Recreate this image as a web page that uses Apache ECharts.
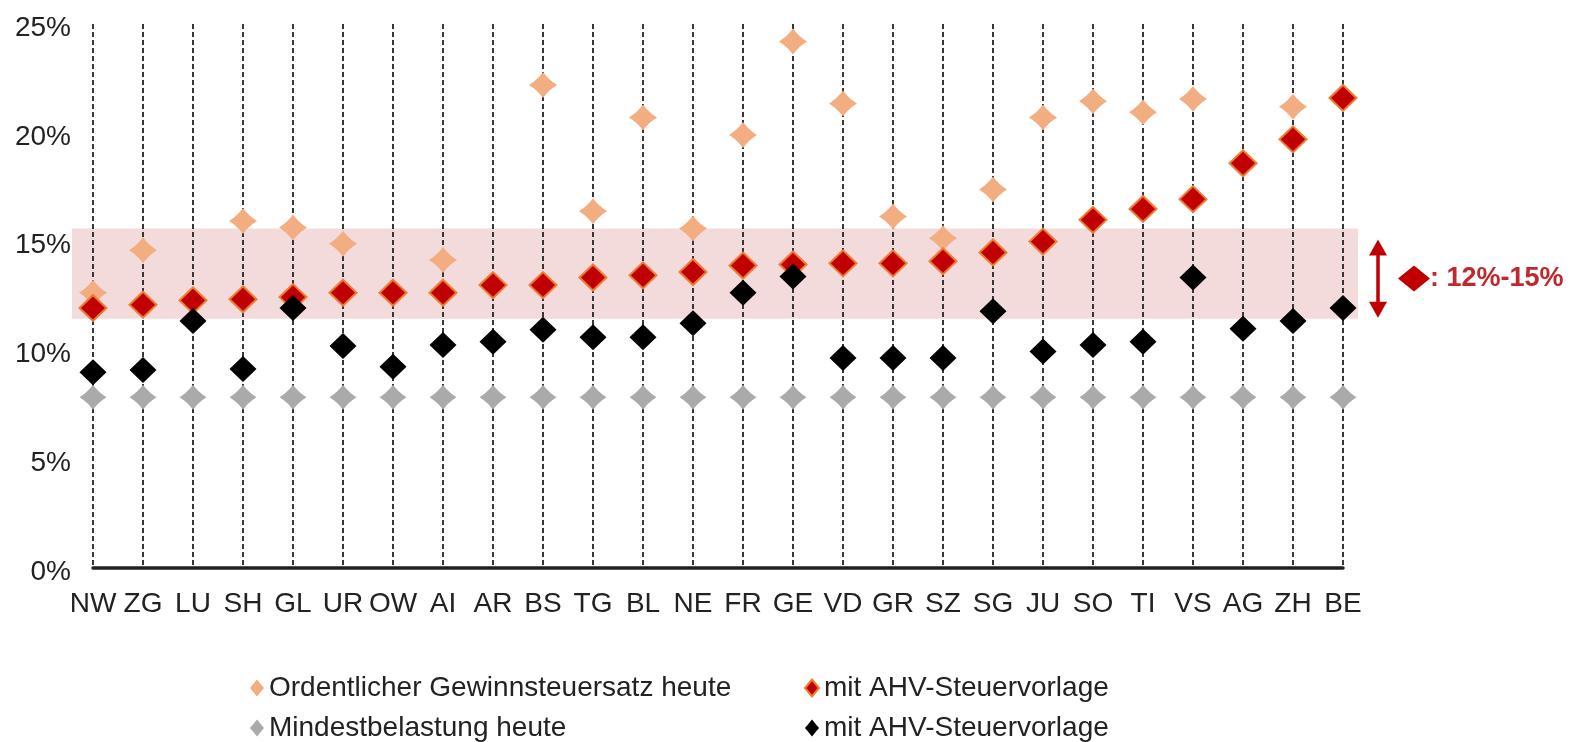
<!DOCTYPE html>
<html>
<head>
<meta charset="utf-8">
<script src="https://cdn.jsdelivr.net/npm/echarts@6/dist/echarts.min.js"></script>
<style>
html, body { margin: 0; padding: 0; background: #fff; }
#chart { width: 1574px; height: 742px; }
</style>
</head>
<body>
<div id="chart"></div>
<script>
var cantons = ['NW', 'ZG', 'LU', 'SH', 'GL', 'UR', 'OW', 'AI', 'AR', 'BS', 'TG', 'BL', 'NE',
  'FR', 'GE', 'VD', 'GR', 'SZ', 'SG', 'JU', 'SO', 'TI', 'VS', 'AG', 'ZH', 'BE'];

// Ordentlicher Gewinnsteuersatz heute
var ordentlichHeute = [12.65, 14.6, 12.3, 15.95, 15.65, 14.9, 12.65, 14.15, 13.0, 22.2, 16.4, 20.7, 15.6,
  19.9, 24.2, 21.35, 16.15, 15.15, 17.4, 20.7, 21.45, 20.95, 21.55, 18.6, 21.2, 21.6];
// mit AHV-Steuervorlage (ordentlich)
var ordentlichVorlage = [11.95, 12.1, 12.3, 12.35, 12.45, 12.65, 12.65, 12.65, 13.0, 13.0, 13.35, 13.45, 13.6,
  13.9, 13.95, 14.0, 14.0, 14.1, 14.5, 15.0, 16.0, 16.5, 16.95, 18.6, 19.7, 21.6];
// Mindestbelastung heute
var mindestHeute = [7.85, 7.85, 7.85, 7.85, 7.85, 7.85, 7.85, 7.85, 7.85, 7.85, 7.85, 7.85, 7.85,
  7.85, 7.85, 7.85, 7.85, 7.85, 7.85, 7.85, 7.85, 7.85, 7.85, 7.85, 7.85, 7.85];
// mit AHV-Steuervorlage (Mindestbelastung)
var mindestVorlage = [9.0, 9.1, 11.35, 9.15, 11.95, 10.2, 9.25, 10.25, 10.4, 10.95, 10.6, 10.6, 11.25,
  12.65, 13.4, 9.65, 9.65, 9.65, 11.8, 9.95, 10.25, 10.4, 13.35, 11.0, 11.35, 11.95];

var yTicks = [0, 5, 10, 15, 20, 25];
var zielBand = [11.45, 15.6];   // schattierter Bereich
var zielLabel = ': 12%-15%';

var font = 'Liberation Sans, Arial, sans-serif';
var starPath = 'path://M0,-10 Q4,-4 10,0 Q4,4 0,10 Q-4,4 -10,0 Q-4,-4 0,-10 Z';

var chart = echarts.init(document.getElementById('chart'));

var legendText = { fontSize: 28, color: '#222', fontFamily: font };

var option = {
  backgroundColor: '#fff',
  animation: false,
  textStyle: { fontFamily: font },
  grid: { left: 93, right: 231, top: 24, bottom: 174 },
  legend: [{
    left: 250, top: 674, orient: 'vertical', padding: 0, itemGap: 12,
    itemWidth: 14, itemHeight: 17,
    textStyle: legendText,
    data: [{ name: 'Ordentlicher Gewinnsteuersatz heute', icon: 'diamond' },
           { name: 'Mindestbelastung heute', icon: 'diamond' }]
  }, {
    left: 804, top: 674, orient: 'vertical', padding: 0, itemGap: 12,
    itemWidth: 14, itemHeight: 17,
    textStyle: legendText,
    formatter: function (n) { return n.trim(); },
    data: [{ name: 'mit AHV-Steuervorlage', icon: 'diamond' },
           { name: 'mit AHV-Steuervorlage ', icon: 'diamond' }]
  }],
  xAxis: {
    type: 'category',
    data: cantons,
    boundaryGap: false,
    axisLine: { lineStyle: { color: '#222', width: 3.5 } },
    axisTick: { show: false },
    axisLabel: { interval: 0, margin: 22, fontSize: 28, color: '#222', fontFamily: font },
    splitLine: { show: true, interval: 0, lineStyle: { color: '#222', width: 1.8, type: [5, 3] } }
  },
  yAxis: {
    type: 'value',
    min: yTicks[0],
    max: yTicks[yTicks.length - 1],
    interval: yTicks[1] - yTicks[0],
    axisLine: { show: false },
    axisTick: { show: false },
    splitLine: { show: false },
    axisLabel: {
      margin: 22, color: '#222',
      formatter: function (v) { return '{t|' + v + '%}'; },
      rich: { t: { fontSize: 28, color: '#222', fontFamily: font, padding: [8, 0, 0, 0] } }
    }
  },
  series: [{
    name: 'Ordentlicher Gewinnsteuersatz heute',
    type: 'scatter', symbol: starPath, symbolSize: [28, 26], z: 3,
    itemStyle: { color: '#f2ad80', opacity: 1 },
    data: ordentlichHeute
  }, {
    name: 'Mindestbelastung heute',
    type: 'scatter', symbol: starPath, symbolSize: [27, 25], z: 3,
    itemStyle: { color: '#aaaaaa', opacity: 1 },
    data: mindestHeute
  }, {
    name: 'mit AHV-Steuervorlage',
    type: 'scatter', symbol: 'diamond', symbolSize: [27, 26], z: 4,
    itemStyle: { color: '#c00000', borderColor: '#ee7d31', borderWidth: 2, opacity: 1 },
    data: ordentlichVorlage
  }, {
    name: 'mit AHV-Steuervorlage ',
    type: 'scatter', symbol: 'diamond', symbolSize: [27, 26], z: 5,
    itemStyle: { color: '#000', opacity: 1 },
    data: mindestVorlage
  }]
};

chart.setOption(option);

// Band und Pfeil-Annotation aus den Achsen berechnet
var pTop = chart.convertToPixel({ gridIndex: 0 }, [0, zielBand[1]]);
var pBot = chart.convertToPixel({ gridIndex: 0 }, [cantons.length - 1, zielBand[0]]);
var aTop = chart.convertToPixel({ gridIndex: 0 }, [0, 15.1])[1];
var aBot = chart.convertToPixel({ gridIndex: 0 }, [0, 11.5])[1];
var bandLeft = pTop[0] - 21, bandRight = pBot[0] + 15;
var ax = bandRight + 20, mid = (aTop + aBot) / 2;
var red = '#c00000';

chart.setOption({
  graphic: [
    { type: 'rect', z: -10, silent: true,
      shape: { x: bandLeft, y: pTop[1], width: bandRight - bandLeft, height: pBot[1] - pTop[1] },
      style: { fill: '#f4dbdb' } },
    { type: 'line', shape: { x1: ax, y1: aTop + 12, x2: ax, y2: aBot - 12 },
      style: { stroke: red, lineWidth: 3.5 } },
    { type: 'polygon', shape: { points: [[ax, aTop], [ax - 9, aTop + 16], [ax + 9, aTop + 16]] },
      style: { fill: red } },
    { type: 'polygon', shape: { points: [[ax, aBot], [ax - 9, aBot - 16], [ax + 9, aBot - 16]] },
      style: { fill: red } },
    { type: 'polygon', shape: { points: [[ax + 20, mid], [ax + 36, mid - 13], [ax + 52, mid], [ax + 36, mid + 13]] },
      style: { fill: red } },
    { type: 'text', x: ax + 52, y: mid, style: { text: zielLabel, fill: '#c0282d', font: 'bold 27px ' + font,
      textVerticalAlign: 'middle', verticalAlign: 'middle' } }
  ]
});
</script>
</body>
</html>
